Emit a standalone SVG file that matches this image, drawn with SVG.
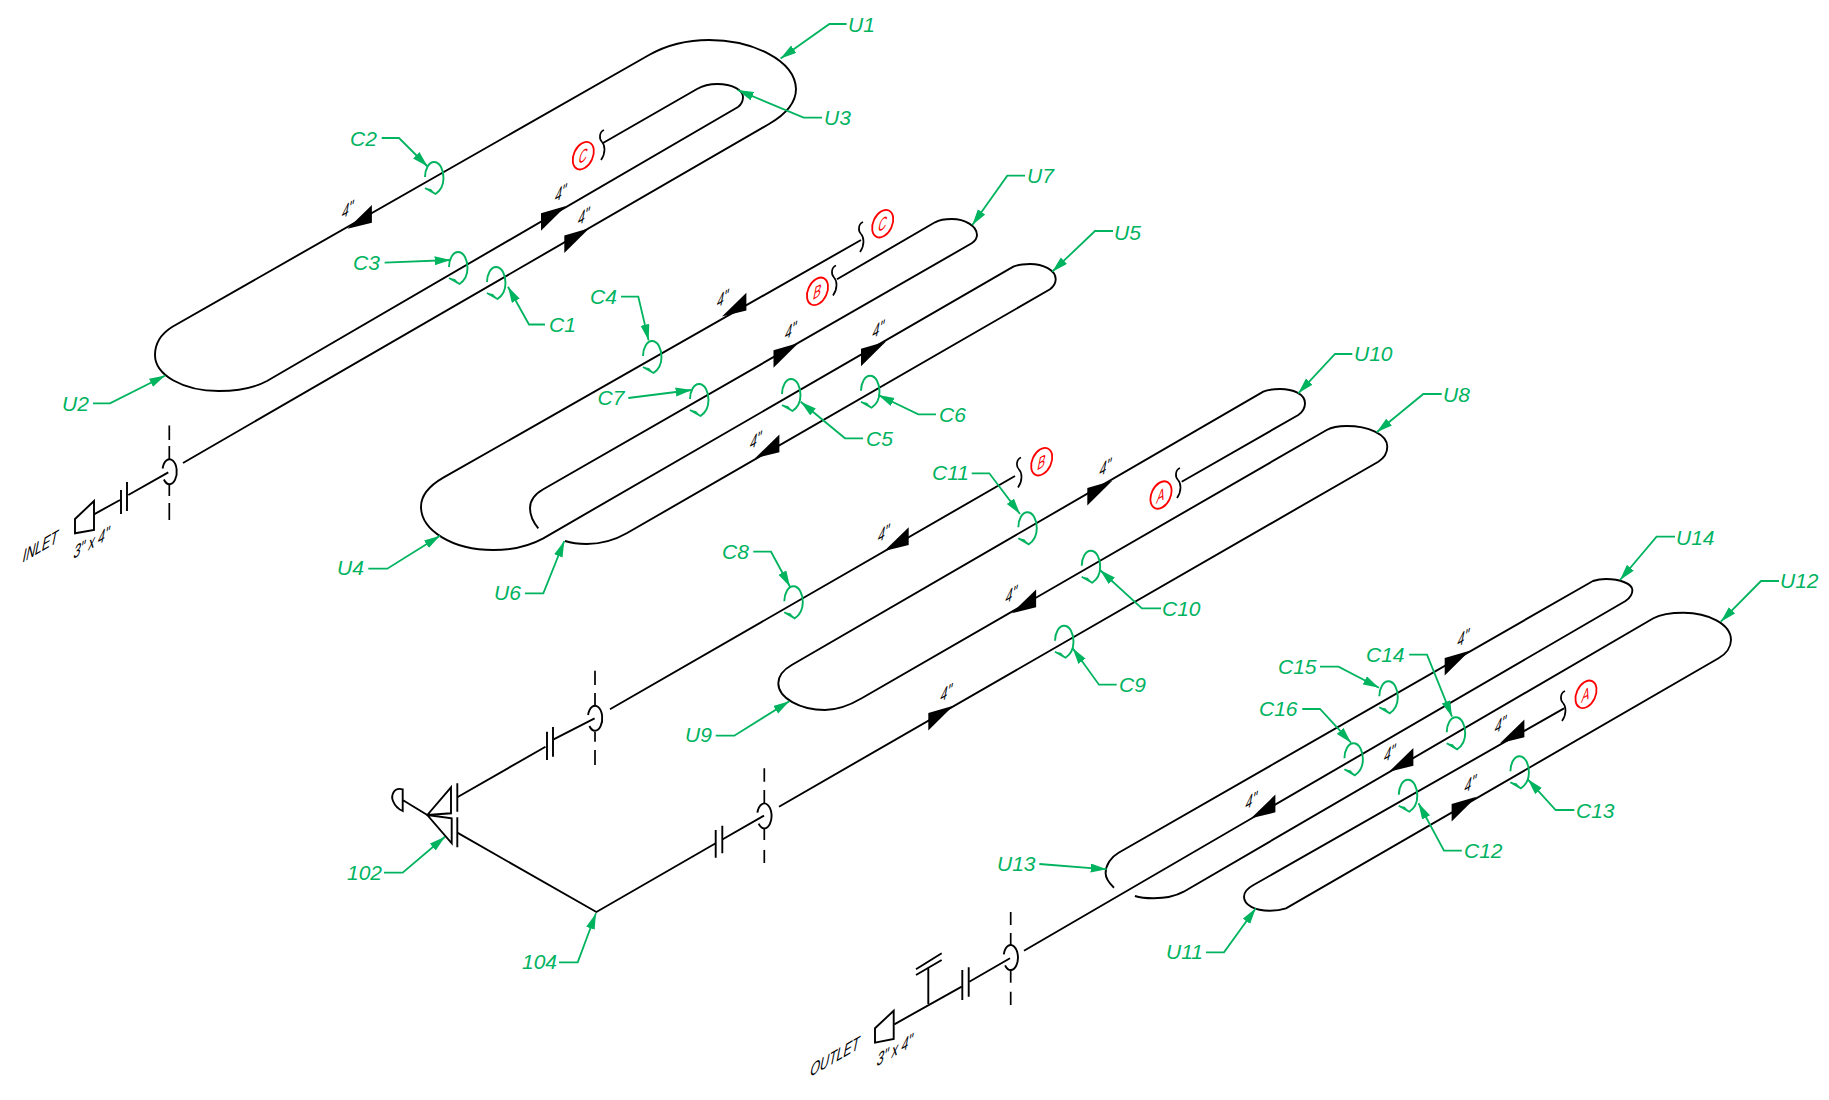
<svg xmlns="http://www.w3.org/2000/svg" xmlns:xlink="http://www.w3.org/1999/xlink" width="1829" height="1100" viewBox="0 0 1829 1100">
<style>
.p{fill:none;stroke:#000;stroke-width:1.9}
.d{fill:none;stroke:#000;stroke-width:1.7}
.f{fill:#000;stroke:none}
.l{fill:none;stroke:#00b35f;stroke-width:1.9}
.lm{fill:none;stroke:#00b35f;stroke-width:1.8;marker-end:url(#ah)}
.t{font-family:"Liberation Sans",Arial,sans-serif;font-style:italic;font-size:21px;fill:#00b35f}
.i{font-family:"Liberation Sans",Arial,sans-serif;font-size:18px;fill:#000}
.r{font-family:"Liberation Sans",Arial,sans-serif;font-size:17px;fill:#f00;text-anchor:middle}
.c{fill:none;stroke:#f00;stroke-width:1.8}
</style>
<defs>
<marker id="ah" markerUnits="userSpaceOnUse" markerWidth="17" markerHeight="10" refX="16" refY="4.5" orient="auto"><path d="M0,0 L16,4.5 L0,9 Z" fill="#00b35f"/></marker>
<path id="au" class="f" d="M0,0 L-25,7.3 L-25,24.7 Z"/>
<path id="ad" class="f" d="M0,0 L24.4,-23.7 L24.4,-6 Z"/>
<path id="brk" class="d" d="M2,-15 C-3,-13 -3,-6 0,-3 C3,0 4,8 -1,15"/>
<path id="vlv" class="p" d="M-6.9,-3 A7.2,12.5 0 1 1 -5.6,8"/>
<g id="cmark"><path class="l" d="M-9,-1 C-9,-9 -5,-16 0,-16 C6,-16 9.5,-8 9.5,0 C9.5,7 6,13 1.5,16 L-9,10"/><path d="M-9,10 L1.5,16 L-3,11 Z" fill="#00b35f"/></g>
</defs>
<rect width="1829" height="1100" fill="#fff"/>
<g id="connectors">
<path class="p" d="M183,463 L769,124 C788,113 796,101 796,89 C795,60 752,40 709,40 C687,40 665,46 649,55 L172,327 C161,334 155,344 155,355 C155,375 183,391 219,391 C238,391 254,388 267,381 L738,107 C742,104 743,100 743,97 C743,90 732,84 717.5,84 C709,84 702,86 697,89 L603,143"/>
<path class="p" d="M861,240 L443.3,477.7 C429,486 421,496 421,506.7 C421,530 452,550 493.3,550 C514,550 531,545 543.3,538.3 L1013.3,266.7 C1018,264.5 1024,264 1030,264 C1043,264 1055.7,270 1055.7,279.3 C1055.7,283 1053,287 1050,289.3 L626.7,533.3 C615,540 601,544 586.7,544 C578,544 571,543 565,541"/>
<path class="p" d="M837,279.3 L935,222.3 C941,219 946,219 951.7,219 C965,219 977,226 977,235 C977,238 975,241 971.7,243.3 L543.3,489.3 C535,494 530,501 530,508.3 C530,515 533,522 538.3,528.3"/>
<path class="p" d="M457.3,797.3 L545.5,746.7 M553.6,739.3 L594.6,718.3 M610,709.3 L1015,476"/>
<path class="p" d="M457.3,832.7 L596.4,912 L715.7,843.3 M722.3,839.5 L764,815.7 M779,806.7 L1378.3,461.7 C1384,458 1387.3,452 1387.3,446.7 C1387.3,434 1368,426 1346.7,426 C1338,426 1332,427 1326.7,430 L861.7,698.3 C852,704 840,710 825,710 C800,710 778.3,698 778.3,683.3 C778.3,676 783,670 791.7,665 L1263.3,391.7 C1268,389.5 1274,389 1280,389 C1293,389 1305,394 1305,403.3 C1305,408 1302,412.5 1298.3,415 L1181.7,481.7"/>
<path class="p" d="M894.3,1024.3 L961.7,986.7 M969.3,981.7 L1010,958.3 M1024,950.7 L1625.5,601 C1630,598 1632.4,594 1632.4,590 C1632.4,584 1620,579 1606,579 C1601,579 1596,580 1592.9,581 L1118.6,852.7 C1111,857 1105.6,865 1105.6,873.3 C1105.6,878 1109,883 1114,887.7"/>
<path class="p" d="M1134.9,896 C1141,898 1147,898.3 1153.5,898.3 C1165,898.3 1175,896.5 1183.7,891.7 L1653.4,618.3 C1662,613.5 1672,612.7 1683.6,612.7 C1708,612.7 1731,624 1731,640 C1731,647 1726,654 1718.5,658.3 L1286,908.3 C1281,910 1275,910.7 1269.7,910.7 C1255,910.7 1244,905 1244,896.7 C1244,892 1248,888 1253.5,885 L1564,708.3"/>
<path class="p" d="M94,514.3 L120,500 M128.3,495 L168.3,472.3"/>
<g id="flow-arrows">
<use xlink:href="#ad" href="#ad" x="347.5" y="228.7"/>
<use xlink:href="#au" href="#au" x="566" y="206"/>
<use xlink:href="#au" href="#au" x="589.3" y="228.3"/>
<use xlink:href="#ad" href="#ad" x="722" y="316.4"/>
<use xlink:href="#au" href="#au" x="798.5" y="343"/>
<use xlink:href="#au" href="#au" x="886" y="341.5"/>
<use xlink:href="#ad" href="#ad" x="755" y="458.3"/>
<use xlink:href="#ad" href="#ad" x="884.3" y="551"/>
<use xlink:href="#au" href="#au" x="1112.3" y="480.7"/>
<use xlink:href="#ad" href="#ad" x="1011.7" y="613.3"/>
<use xlink:href="#au" href="#au" x="953.3" y="705.7"/>
<use xlink:href="#au" href="#au" x="1469.7" y="650.7"/>
<use xlink:href="#ad" href="#ad" x="1500" y="743.3"/>
<use xlink:href="#ad" href="#ad" x="1389" y="771.7"/>
<use xlink:href="#ad" href="#ad" x="1251" y="818.3"/>
<use xlink:href="#au" href="#au" x="1476.6" y="796.7"/>
</g>
<g id="leaders">
<path class="lm" d="M846.6,24 L829.4,24 L780.6,58.5"/>
<path class="lm" d="M822,117.7 L803.6,117.7 L737.6,90"/>
<path class="lm" d="M381.7,138 L399,138 L427.6,166.5"/>
<path class="lm" d="M384.6,262.7 L450.6,260"/>
<path class="lm" d="M545,324.5 L529,324.5 L508,286.8"/>
<path class="lm" d="M93,403.3 L110,403.3 L165.3,375.5"/>
<path class="lm" d="M621,296.7 L638.3,296.7 L648.6,340.4"/>
<path class="lm" d="M628.3,398 L691.7,390"/>
<path class="lm" d="M368.3,568.7 L387.3,568.7 L440,535.7"/>
<path class="lm" d="M525,593.3 L543.3,593.3 L564.3,541"/>
<path class="lm" d="M1025,175.7 L1007.3,175.7 L972.3,225"/>
<path class="lm" d="M1113,231 L1095,231 L1052.3,271.7"/>
<path class="lm" d="M863,438.3 L845,438.3 L800.7,401.7"/>
<path class="lm" d="M936,414.3 L918.3,414.3 L878.3,395"/>
<path class="lm" d="M971.7,473.3 L989.3,473.3 L1020,514"/>
<path class="lm" d="M753.3,551.7 L771,551.7 L790,586.7"/>
<path class="lm" d="M1161,608.3 L1141.9,608.3 L1100,570"/>
<path class="lm" d="M1116.7,684.7 L1099,684.7 L1072.7,648.3"/>
<path class="lm" d="M715.7,735.7 L734.3,735.7 L789.3,701.3"/>
<path class="lm" d="M1039.3,864 L1106.7,869.3"/>
<path class="lm" d="M1352.3,354 L1335,354 L1298.3,393.3"/>
<path class="lm" d="M1441.7,394 L1423.3,394 L1376.7,432.3"/>
<path class="lm" d="M1675,536.7 L1656.6,536.7 L1620,580"/>
<path class="lm" d="M1779,581 L1761,581 L1720.8,621.7"/>
<path class="lm" d="M1320,666.7 L1338.5,666.7 L1379,687.7"/>
<path class="lm" d="M1409.2,654.7 L1427,654.7 L1452,716.7"/>
<path class="lm" d="M1302.3,709 L1320,709 L1351,742.7"/>
<path class="lm" d="M1574.3,810 L1555.7,810 L1527.8,779.3"/>
<path class="lm" d="M1461.8,850.7 L1444,850.7 L1418.5,803.3"/>
<path class="lm" d="M1206,952.3 L1224,952.3 L1255.8,908.3"/>
<path class="lm" d="M384,872.7 L402.7,872.7 L445,836.7"/>
<path class="lm" d="M559,962.3 L577.7,962.3 L596,913.3"/>
</g>
</g>
<g id="inlet">
<path class="p" d="M75,519 L94,501 L94,530 L75,533.3 Z"/>
<path class="p" d="M121,490 V514 M127,482 V511"/>
<use xlink:href="#vlv" href="#vlv" x="169.5" y="471.5"/>
<path class="d" d="M169.3,425.5 V440 M169.3,446 V459 M169.3,484 V496 M169.3,503 V520"/>
<text class="i" transform="matrix(.69 -.4 -.22 1.1 21.7 563)">INLET</text>
<text class="i" transform="matrix(.69 -.4 -.22 1.1 72.7 559.3)">3" x 4"</text>
</g>
<g id="outlet">
<path class="p" d="M875,1028.3 L893.7,1010.7 L893.7,1039 L875,1042.7 Z"/>
<path class="p" d="M962.3,970 V1000 M968.7,967.3 V996.7"/>
<path class="p" d="M928.3,1004 V968.3 M916,969.3 L941.7,953.3 M916,975 L941.7,960"/>
<use xlink:href="#vlv" href="#vlv" x="1010.7" y="957.3"/>
<path class="d" d="M1010.7,912 V925 M1010.7,933 V945 M1010.7,970 V982.7 M1010.7,991.7 V1005"/>
<text class="i" transform="matrix(.69 -.4 -.22 1.1 809.3 1077.3)">OUTLET</text>
<text class="i" transform="matrix(.69 -.4 -.22 1.1 876 1066.7)">3" x 4"</text>
</g>
<g id="v102">
<path class="p" d="M427.3,815 L451,787.3 V813.3 L427.3,815 L451.7,818.3 V843.3 Z"/>
<path class="p" d="M457.3,783.3 V811.7 M457.3,817.3 V847.3"/>
<path class="p" d="M427.3,815 L402.7,800 M402.7,789.3 C393,787 391,796 393,801 C395,806 398,809 402.7,811 Z"/>
</g>
<g id="f-upper">
<path class="p" d="M547,731.7 V760 M553,727 V756.7"/>
<use xlink:href="#vlv" href="#vlv" x="595" y="718"/>
<path class="d" d="M595,670.7 V685 M595,693 V705 M595,731.7 V741.7 M595,750 V765"/>
</g>
<g id="f-lower">
<path class="p" d="M715.7,830 V857.7 M722.3,825.7 V853.3"/>
<use xlink:href="#vlv" href="#vlv" x="764.3" y="815.7"/>
<path class="d" d="M764.3,768.3 V781.7 M764.3,790 V803 M764.3,828 V840 M764.3,850 V863"/>
</g>
<g id="breaks">
<use xlink:href="#brk" href="#brk" x="602" y="145"/>
<use xlink:href="#brk" href="#brk" x="861" y="237"/>
<use xlink:href="#brk" href="#brk" x="834" y="280.5"/>
<use xlink:href="#brk" href="#brk" x="1019" y="472.5"/>
<use xlink:href="#brk" href="#brk" x="1178" y="483"/>
<use xlink:href="#brk" href="#brk" x="1563" y="706"/>
</g>
<g id="off-page">
<g id="ref-C1"><ellipse class="c" cx="583.3" cy="155.7" rx="9.5" ry="14.5" transform="rotate(25 583.3 155.7)"/><text class="r" transform="matrix(.69 -.4 -.22 1.1 582 162.4)">C</text></g>
<g id="ref-C2"><ellipse class="c" cx="882.7" cy="223.7" rx="9.5" ry="14.5" transform="rotate(25 882.7 223.7)"/><text class="r" transform="matrix(.69 -.4 -.22 1.1 881.4 230.4)">C</text></g>
<g id="ref-B1"><ellipse class="c" cx="817.5" cy="291.3" rx="9.5" ry="14.5" transform="rotate(25 817.5 291.3)"/><text class="r" transform="matrix(.69 -.4 -.22 1.1 816.2 298)">B</text></g>
<g id="ref-B2"><ellipse class="c" cx="1041.7" cy="461.7" rx="9.5" ry="14.5" transform="rotate(25 1041.7 461.7)"/><text class="r" transform="matrix(.69 -.4 -.22 1.1 1040.4 468.4)">B</text></g>
<g id="ref-A1"><ellipse class="c" cx="1161" cy="495" rx="9.5" ry="14.5" transform="rotate(25 1161 495)"/><text class="r" transform="matrix(.69 -.4 -.22 1.1 1159.7 501.7)">A</text></g>
<g id="ref-A2"><ellipse class="c" cx="1586" cy="694.3" rx="9.5" ry="14.5" transform="rotate(25 1586 694.3)"/><text class="r" transform="matrix(.69 -.4 -.22 1.1 1584.7 701)">A</text></g>
</g>
<g id="sizes">
<text class="i" transform="matrix(.69 -.4 -.22 1.1 340.9 219.3)">4"</text>
<text class="i" transform="matrix(.69 -.4 -.22 1.1 553.9 202.7)">4"</text>
<text class="i" transform="matrix(.69 -.4 -.22 1.1 576.9 226)">4"</text>
<text class="i" transform="matrix(.69 -.4 -.22 1.1 715.9 308.3)">4"</text>
<text class="i" transform="matrix(.69 -.4 -.22 1.1 783.9 340.3)">4"</text>
<text class="i" transform="matrix(.69 -.4 -.22 1.1 871.6 339.1)">4"</text>
<text class="i" transform="matrix(.69 -.4 -.22 1.1 748.9 449.9)">4"</text>
<text class="i" transform="matrix(.69 -.4 -.22 1.1 876.9 543)">4"</text>
<text class="i" transform="matrix(.69 -.4 -.22 1.1 1098.6 477)">4"</text>
<text class="i" transform="matrix(.69 -.4 -.22 1.1 1004.6 604.3)">4"</text>
<text class="i" transform="matrix(.69 -.4 -.22 1.1 939.6 702.6)">4"</text>
<text class="i" transform="matrix(.69 -.4 -.22 1.1 1456.5 647.6)">4"</text>
<text class="i" transform="matrix(.69 -.4 -.22 1.1 1493.7 734.3)">4"</text>
<text class="i" transform="matrix(.69 -.4 -.22 1.1 1382.9 763)">4"</text>
<text class="i" transform="matrix(.69 -.4 -.22 1.1 1244.5 810.3)">4"</text>
<text class="i" transform="matrix(.69 -.4 -.22 1.1 1463.5 793.6)">4"</text>
</g>
<g id="nodes">
<g id="U1"><text class="t" x="848" y="32">U1</text></g>
<g id="U2"><text class="t" x="62" y="411">U2</text></g>
<g id="U3"><text class="t" x="824" y="125">U3</text></g>
<g id="U4"><text class="t" x="337" y="575">U4</text></g>
<g id="U5"><text class="t" x="1114" y="240">U5</text></g>
<g id="U6"><text class="t" x="494" y="600">U6</text></g>
<g id="U7"><text class="t" x="1027" y="183">U7</text></g>
<g id="U8"><text class="t" x="1443" y="402">U8</text></g>
<g id="U9"><text class="t" x="685" y="742">U9</text></g>
<g id="U10"><text class="t" x="1354" y="361">U10</text></g>
<g id="U11"><text class="t" x="1166" y="959">U11</text></g>
<g id="U12"><text class="t" x="1780" y="588">U12</text></g>
<g id="U13"><text class="t" x="997" y="871">U13</text></g>
<g id="U14"><text class="t" x="1676" y="545">U14</text></g>
<g id="n102"><text class="t" x="347" y="880">102</text></g>
<g id="n104"><text class="t" x="522" y="969">104</text></g>
<g id="C1"><use xlink:href="#cmark" href="#cmark" x="496" y="283"/><text class="t" x="549" y="332">C1</text></g>
<g id="C2"><use xlink:href="#cmark" href="#cmark" x="434" y="178"/><text class="t" x="350" y="146">C2</text></g>
<g id="C3"><use xlink:href="#cmark" href="#cmark" x="458" y="268"/><text class="t" x="353" y="270">C3</text></g>
<g id="C4"><use xlink:href="#cmark" href="#cmark" x="652" y="357"/><text class="t" x="590" y="304">C4</text></g>
<g id="C5"><use xlink:href="#cmark" href="#cmark" x="791" y="395"/><text class="t" x="866" y="446">C5</text></g>
<g id="C6"><use xlink:href="#cmark" href="#cmark" x="870" y="391.7"/><text class="t" x="939" y="422">C6</text></g>
<g id="C7"><use xlink:href="#cmark" href="#cmark" x="699" y="400"/><text class="t" x="597.5" y="405">C7</text></g>
<g id="C8"><use xlink:href="#cmark" href="#cmark" x="793.3" y="602.3"/><text class="t" x="722" y="559">C8</text></g>
<g id="C9"><use xlink:href="#cmark" href="#cmark" x="1064" y="641.7"/><text class="t" x="1119" y="692">C9</text></g>
<g id="C10"><use xlink:href="#cmark" href="#cmark" x="1090.7" y="566.7"/><text class="t" x="1162" y="616">C10</text></g>
<g id="C11"><use xlink:href="#cmark" href="#cmark" x="1027.3" y="528.3"/><text class="t" x="932" y="480">C11</text></g>
<g id="C12"><use xlink:href="#cmark" href="#cmark" x="1407.8" y="795.7"/><text class="t" x="1464" y="858">C12</text></g>
<g id="C13"><use xlink:href="#cmark" href="#cmark" x="1519.4" y="772.3"/><text class="t" x="1576" y="818">C13</text></g>
<g id="C14"><use xlink:href="#cmark" href="#cmark" x="1455.7" y="733.3"/><text class="t" x="1366" y="662">C14</text></g>
<g id="C15"><use xlink:href="#cmark" href="#cmark" x="1388.3" y="697.3"/><text class="t" x="1278" y="674">C15</text></g>
<g id="C16"><use xlink:href="#cmark" href="#cmark" x="1353.4" y="759.3"/><text class="t" x="1259" y="716">C16</text></g>
</g>
</svg>
